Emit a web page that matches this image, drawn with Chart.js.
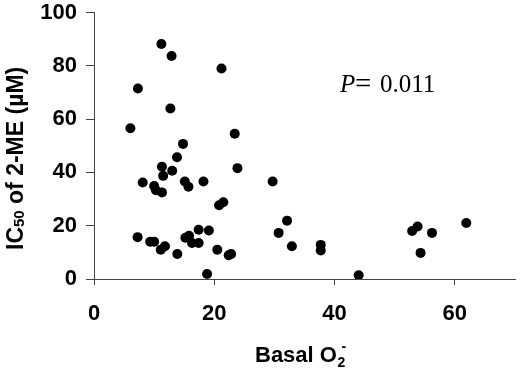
<!DOCTYPE html>
<html>
<head>
<meta charset="utf-8">
<script src="https://cdn.jsdelivr.net/npm/chart.js@4"></script>
<style>
html,body{margin:0;padding:0;background:#fff;}
#wrap{width:520px;height:368px;}
</style>
</head>
<body>
<div id="wrap"><canvas id="c" width="520" height="368"></canvas></div>
<script>
const basalO2 = [11.2,12.9,21.2,7.3,12.7,6.05,23.4,14.8,13.8,11.3,13.0,11.5,23.85,8.1,10.0,10.3,11.3,15.1,15.7,18.2,29.7,20.8,21.5,32.1,30.7,7.25,9.35,10.0,11.8,11.1,13.85,15.2,15.8,16.3,17.4,17.4,19.1,20.5,22.4,22.8,18.8,32.9,37.7,37.7,44.0,52.9,53.8,56.2,54.3,61.9];
const ic50 = [88.2,83.7,79.0,71.5,64.0,56.6,54.5,50.7,45.7,42.1,40.6,38.7,41.6,36.2,34.9,33.3,32.5,36.6,34.6,36.6,36.6,27.7,28.8,21.9,17.3,15.7,14.0,14.0,12.3,11.0,9.4,15.5,16.2,13.5,13.5,18.5,18.2,11.0,8.9,9.4,1.9,12.3,12.8,10.7,1.4,18.0,19.7,17.3,9.8,21.0];
const xTicks = [0,20,40,60];
const yTicks = [0,20,40,60,80,100];
const yTitleParts = ["IC", "50", " of 2-ME (µM)"];
const xTitleParts = ["Basal O", "2", "-"];
const pParts = ["P", "=", "0.011"];

const points = basalO2.map((x,i)=>({x:x,y:ic50[i]}));
const sans = "'Liberation Sans', Arial, 'DejaVu Sans', sans-serif";
const serif = "'Liberation Serif', 'Times New Roman', serif";

const texts = {
  id:'texts',
  afterDraw(chart){
    const ctx = chart.ctx;
    ctx.save();
    ctx.fillStyle = '#000';
    ctx.textBaseline = 'alphabetic';
    ctx.textAlign = 'left';
    // y axis title (rotated)
    ctx.save();
    ctx.translate(23, 250);
    ctx.rotate(-Math.PI/2);
    let x = 0;
    ctx.font = "bold 23px " + sans;
    ctx.fillText(yTitleParts[0], x, 0);
    x += ctx.measureText(yTitleParts[0]).width;
    ctx.font = "bold 15px " + sans;
    ctx.fillText(yTitleParts[1], x, 1);
    x += ctx.measureText(yTitleParts[1]).width;
    ctx.font = "bold 23px " + sans;
    ctx.fillText(yTitleParts[2], x, 0);
    ctx.restore();
    // x axis title
    x = 255;
    ctx.font = "bold 22px " + sans;
    ctx.fillText(xTitleParts[0], x, 362);
    x += ctx.measureText(xTitleParts[0]).width;
    ctx.font = "bold 14px " + sans;
    ctx.fillText(xTitleParts[1], x + 0.5, 367);
    ctx.fillText(xTitleParts[2], x + 4.5, 351);
    // P annotation
    ctx.font = "italic 25px " + serif;
    ctx.fillText(pParts[0], 340, 92);
    ctx.font = "29px " + serif;
    ctx.fillText(pParts[1], 355, 93);
    ctx.font = "25px " + serif;
    ctx.fillText(pParts[2], 380, 92);
    ctx.restore();
  }
};

new Chart(document.getElementById('c'), {
  type:'scatter',
  data:{datasets:[{data:points, backgroundColor:'#000', borderColor:'#000', pointRadius:5, pointHoverRadius:5, borderWidth:0}]},
  options:{
    responsive:false, animation:false, devicePixelRatio:1,
    layout:{padding:{top:12.5, right:1, bottom:0, left:0}},
    plugins:{legend:{display:false}, tooltip:{enabled:false}},
    scales:{
      x:{
        type:'linear', min:0, max:70,
        afterBuildTicks(s){ s.ticks = xTicks.map(v=>({value:v})); },
        afterFit(s){ s.height = 89; s.paddingLeft = 0; s.paddingRight = 0; },
        grid:{drawOnChartArea:false, drawTicks:true, tickLength:6, color:'#444'},
        border:{display:true, color:'#444', width:1},
        ticks:{color:'#000', padding:16, font:{family:sans, size:22, weight:'bold'}, maxRotation:0},
        title:{display:false}
      },
      y:{
        type:'linear', min:0, max:100,
        afterBuildTicks(s){ s.ticks = yTicks.map(v=>({value:v})); },
        afterFit(s){ s.width = 94; s.paddingTop = 0; s.paddingBottom = 0; },
        grid:{drawOnChartArea:false, drawTicks:true, tickLength:8, color:'#444'},
        border:{display:true, color:'#444', width:1},
        ticks:{color:'#000', padding:9, font:{family:sans, size:22, weight:'bold'}},
        title:{display:false}
      }
    }
  },
  plugins:[texts]
});
</script>
</body>
</html>
